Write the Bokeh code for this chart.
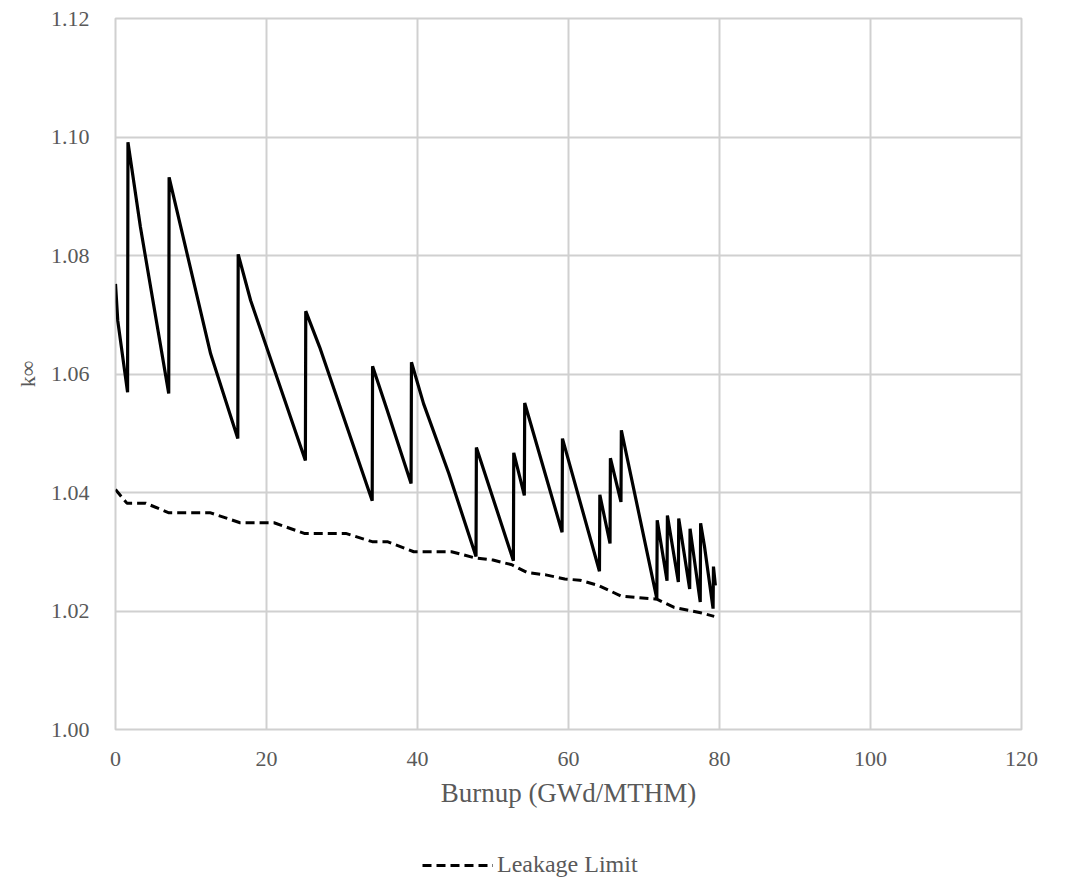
from bokeh.plotting import figure
from bokeh.layouts import column
from bokeh.models import FixedTicker, PrintfTickFormatter, Legend, LegendItem, ColumnDataSource
from bokeh.embed import file_html
from bokeh.resources import INLINE

# k-infinity vs burnup (sawtooth from refuelling)
burnup = [0, 0.3, 1.6, 1.65, 3.3, 7.05, 7.1, 12.6, 16.2, 16.25, 17.9, 25.15, 25.2, 27.05,
          34.0, 34.05, 35.9, 39.15, 39.2, 40.8, 44.15, 47.75, 47.8, 52.7, 52.75, 54.15, 54.2,
          59.15, 59.2, 64.1, 64.15, 65.5, 65.55, 66.95, 67.0, 71.7, 71.75, 73.05, 73.1,
          74.55, 74.6, 76.05, 76.1, 77.45, 77.5, 78.0, 79.15, 79.2, 79.45]
k_inf = [1.0752, 1.0690, 1.0569, 1.0991, 1.0848, 1.0567, 1.0932, 1.0634, 1.0491, 1.0802,
         1.0724, 1.0454, 1.0706, 1.0645, 1.0386, 1.0613, 1.0542, 1.0415, 1.0620, 1.0550,
         1.0432, 1.0292, 1.0476, 1.0285, 1.0467, 1.0395, 1.0551, 1.0333, 1.0491, 1.0267,
         1.0396, 1.0314, 1.0458, 1.0384, 1.0505, 1.0221, 1.0353, 1.0251, 1.0361, 1.0249,
         1.0356, 1.0237, 1.0339, 1.0215, 1.0348, 1.0310, 1.0204, 1.0275, 1.0243]

# Leakage limit
limit_burnup = [0, 1.5, 4.0, 7.0, 12.5, 16.5, 21.0, 25.0, 30.5, 34.0, 36.0, 39.5, 44.5, 47.5,
                50.0, 52.5, 54.5, 57.0, 59.5, 61.5, 64.0, 67.0, 71.7, 74.0, 77.5, 79.3]
limit_k = [1.0405, 1.0382, 1.0382, 1.0366, 1.0366, 1.0349, 1.0349, 1.0331, 1.0331, 1.0317,
           1.0317, 1.0300, 1.0300, 1.0290, 1.0286, 1.0278, 1.0265, 1.0261, 1.0254, 1.0252,
           1.0243, 1.0225, 1.0220, 1.0206, 1.0197, 1.0191]

x_ticks = [0, 20, 40, 60, 80, 100, 120]
y_ticks = [1.00, 1.02, 1.04, 1.06, 1.08, 1.10, 1.12]

FONT = "Liberation Serif"
GRAY = "#595959"
GRID = "#d0d0d0"
DASH = "9 5"

p = figure(frame_width=906, frame_height=711, min_border_left=115, min_border_right=45,
           min_border_top=18, min_border_bottom=111,
           x_range=(0, 120), y_range=(1.00, 1.12),
           output_backend="svg", toolbar_location=None, background_fill_color="white",
           border_fill_color="white")

p.outline_line_color = GRID
p.outline_line_width = 2

for ax in (p.xaxis[0], p.yaxis[0]):
    ax.axis_line_color = None
    ax.major_tick_line_color = None
    ax.minor_tick_line_color = None
    ax.major_label_text_font = FONT
    ax.major_label_text_color = GRAY
    ax.major_label_text_font_size = "22px"
    ax.axis_label_text_font = FONT
    ax.axis_label_text_color = GRAY
    ax.axis_label_text_font_style = "normal"
p.xaxis.axis_label_text_font_size = "27px"
p.yaxis.axis_label_text_font_size = "22px"

p.xaxis.ticker = FixedTicker(ticks=x_ticks)
p.yaxis.ticker = FixedTicker(ticks=y_ticks)
p.yaxis.formatter = PrintfTickFormatter(format="%.2f")
p.xaxis.axis_label = "Burnup (GWd/MTHM)"
p.yaxis.axis_label = "k∞"
p.xaxis.major_label_standoff = 16
p.yaxis.major_label_standoff = 20
p.xaxis.axis_label_standoff = 9
p.yaxis.axis_label_standoff = 8

p.xgrid.ticker = FixedTicker(ticks=x_ticks)
p.ygrid.ticker = FixedTicker(ticks=y_ticks)
p.grid.grid_line_color = GRID
p.grid.grid_line_width = 2

src = ColumnDataSource(dict(x=burnup, y=k_inf))
p.line("x", "y", source=src, line_color="black", line_width=3.2)

lsrc = ColumnDataSource(dict(x=limit_burnup, y=limit_k))
p.line("x", "y", source=lsrc, line_color="black", line_width=3, line_dash=DASH)

# legend strip below the chart (frame aligned with the main chart)
lf = figure(frame_width=906, height=38, min_border_left=115, min_border_right=45,
            min_border_top=0, min_border_bottom=0,
            x_range=(0, 906), y_range=(0, 38),
            output_backend="svg", toolbar_location=None,
            background_fill_color="white", border_fill_color="white")
lf.axis.visible = False
lf.grid.visible = False
lf.outline_line_color = None
dummy = lf.line(x=[-100, -50], y=[-100, -100], line_color="black", line_width=3,
                line_dash=DASH)
legend = Legend(items=[LegendItem(label="Leakage Limit", renderers=[dummy])],
                location=(307, 0), orientation="horizontal",
                label_text_font=FONT, label_text_color=GRAY, label_text_font_size="24px",
                glyph_width=71, glyph_height=20, label_standoff=4, padding=0, margin=0,
                spacing=0, border_line_color=None, background_fill_alpha=0)
lf.add_layout(legend, "center")

layout = column(p, lf, spacing=0)
open("out.html", "w").write(file_html(layout, INLINE))
